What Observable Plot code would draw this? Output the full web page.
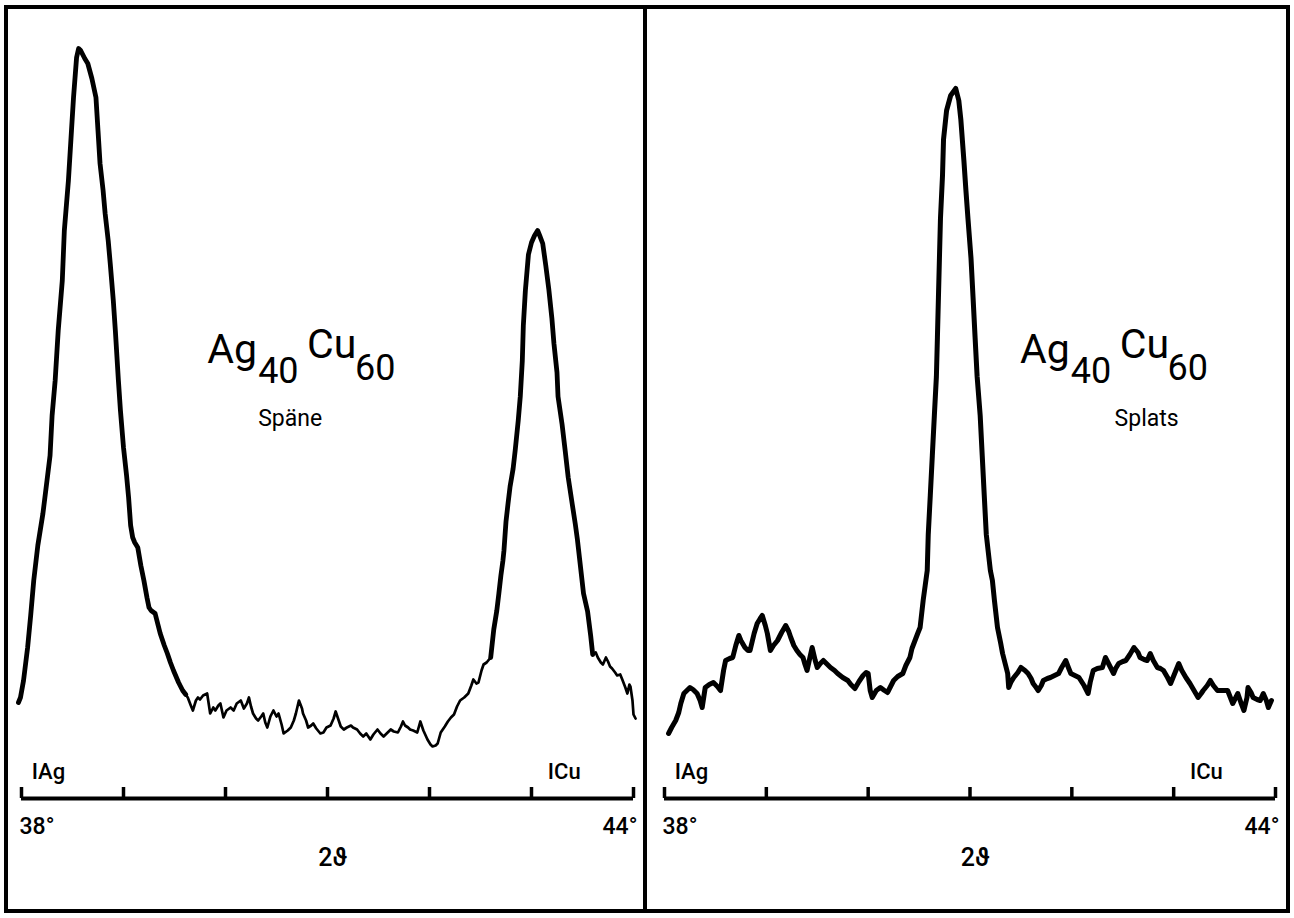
<!DOCTYPE html>
<html>
<head>
<meta charset="utf-8">
<script src="https://cdn.jsdelivr.net/npm/d3@7"></script>
<script src="https://cdn.jsdelivr.net/npm/@observablehq/plot@0.6"></script>
<style>
  html, body { margin: 0; padding: 0; background: #fff; }
  #figure {
    position: absolute; left: 4px; top: 5px;
    width: 1278px; height: 900px;
    border: 4px solid #000; display: flex; background: #fff;
  }
  #figure .divider { width: 4px; background: #000; flex: none; }
  #figure svg { flex: none; display: block; }
</style>
</head>
<body>
<div id="figure"></div>
<script>
// X-ray diffractometer traces of Ag40Cu60, 2θ from 38° to 44° (intensity in arbitrary units)

// Chips ("Späne")
const spaeneTheta = [
  37.97, 37.99, 38.02, 38.06, 38.09, 38.12, 38.16, 38.21, 38.25, 38.28, 38.30, 38.33, 38.36, 38.40, 38.42, 38.46,
  38.49, 38.51, 38.54, 38.56, 38.58, 38.62, 38.65, 38.69, 38.73, 38.75, 38.77, 38.80, 38.82, 38.85, 38.87, 38.90,
  38.92, 38.95, 38.97, 39.00, 39.03, 39.05, 39.07, 39.09, 39.11, 39.14, 39.17, 39.20, 39.23, 39.25, 39.27, 39.31,
  39.34, 39.36, 39.40, 39.43, 39.46, 39.49, 39.54, 39.58, 39.61, 39.63, 39.66, 39.68, 39.71, 39.73, 39.75, 39.78,
  39.82, 39.85, 39.88, 39.90, 39.93, 39.95, 39.98, 40.01, 40.05, 40.08, 40.11, 40.15, 40.18, 40.21, 40.23, 40.25,
  40.27, 40.30, 40.32, 40.35, 40.37, 40.39, 40.41, 40.44, 40.47, 40.50, 40.52, 40.55, 40.57, 40.61, 40.64, 40.67,
  40.69, 40.72, 40.75, 40.76, 40.79, 40.81, 40.84, 40.86, 40.89, 40.93, 40.96, 40.99, 41.03, 41.06, 41.08, 41.11,
  41.13, 41.16, 41.19, 41.23, 41.25, 41.29, 41.32, 41.35, 41.38, 41.42, 41.45, 41.49, 41.52, 41.55, 41.58, 41.62,
  41.65, 41.69, 41.72, 41.74, 41.76, 41.79, 41.81, 41.84, 41.88, 41.91, 41.94, 41.98, 42.01, 42.03, 42.06, 42.08,
  42.11, 42.15, 42.18, 42.21, 42.24, 42.27, 42.30, 42.34, 42.38, 42.41, 42.43, 42.46, 42.48, 42.51, 42.53, 42.56,
  42.60, 42.63, 42.66, 42.68, 42.70, 42.72, 42.73, 42.75, 42.77, 42.79, 42.82, 42.84, 42.87, 42.89, 42.91, 42.92,
  42.94, 42.97, 43.00, 43.03, 43.06, 43.08, 43.11, 43.14, 43.17, 43.20, 43.22, 43.25, 43.26, 43.30, 43.33, 43.36,
  43.40, 43.43, 43.45, 43.48, 43.51, 43.55, 43.58, 43.60, 43.63, 43.65, 43.68, 43.70, 43.73, 43.75, 43.77, 43.79,
  43.82, 43.84, 43.87, 43.89, 43.92, 43.94, 43.96, 43.97, 43.99, 44.00, 44.02
];
const spaeneCounts = [
   96, 101, 118, 151, 183, 218, 253, 285, 318, 343, 383, 418, 468, 518, 568, 618,
  668, 701, 741, 750, 748, 740, 735, 720, 701, 668, 635, 608, 585, 558, 535, 498,
  468, 418, 388, 351, 323, 301, 273, 261, 256, 251, 233, 218, 201, 191, 188, 185,
  173, 165, 153, 145, 136, 128, 116, 108, 104, 101,  93,  88,  98, 101,  99, 103,
  105,  85,  91,  88,  93,  95,  81,  88,  91,  88,  95,  98,  90,  95, 101,  92,
   85,  80,  78,  82,  85,  76,  71,  82,  88,  82,  85,  74,  65,  68,  71,  78,
   85,  98,  90,  85,  78,  71,  73,  75,  70,  65,  66,  71,  73,  80,  87,  78,
   72,  69,  71,  73,  71,  69,  65,  62,  65,  59,  64,  69,  65,  62,  65,  69,
   67,  66,  72,  77,  73,  71,  69,  68,  66,  77,  68,  59,  54,  52,  53,  55,
   66,  72,  77,  81,  84,  92,  98, 101, 105, 113, 119, 115, 116, 128, 134, 136,
  141, 169, 188, 205, 223, 238, 248, 277, 295, 312, 330, 348, 378, 402, 438, 473,
  508, 544, 556, 563, 568, 563, 555, 533, 509, 480, 455, 426, 402, 374, 348, 321,
  294, 274, 259, 232, 205, 187, 163, 144, 146, 141, 136, 134, 141, 137, 132, 130,
  126, 123, 124, 119, 111, 105, 114, 112,  98,  84,  80
];

// Splat-quenched foil ("Splats")
const splatsTheta = [
  38.04, 38.07, 38.11, 38.14, 38.16, 38.19, 38.22, 38.25, 38.28, 38.32, 38.35, 38.37, 38.40, 38.44, 38.48, 38.52,
  38.55, 38.58, 38.60, 38.64, 38.67, 38.70, 38.73, 38.75, 38.79, 38.82, 38.84, 38.88, 38.91, 38.94, 38.96, 38.99,
  39.01, 39.04, 39.07, 39.11, 39.15, 39.19, 39.22, 39.24, 39.27, 39.30, 39.33, 39.36, 39.38, 39.40, 39.43, 39.45,
  39.48, 39.50, 39.53, 39.56, 39.60, 39.63, 39.67, 39.70, 39.75, 39.80, 39.83, 39.87, 39.91, 39.95, 39.98, 40.00,
  40.02, 40.04, 40.08, 40.12, 40.16, 40.19, 40.22, 40.25, 40.29, 40.34, 40.37, 40.41, 40.43, 40.46, 40.49, 40.51,
  40.54, 40.56, 40.58, 40.59, 40.61, 40.63, 40.65, 40.67, 40.68, 40.69, 40.70, 40.71, 40.73, 40.74, 40.77, 40.81,
  40.86, 40.89, 40.91, 40.94, 40.96, 40.98, 41.01, 41.03, 41.05, 41.07, 41.10, 41.12, 41.14, 41.16, 41.18, 41.20,
  41.22, 41.24, 41.27, 41.30, 41.32, 41.35, 41.37, 41.38, 41.40, 41.43, 41.47, 41.50, 41.54, 41.57, 41.60, 41.62,
  41.65, 41.67, 41.70, 41.72, 41.76, 41.79, 41.83, 41.87, 41.90, 41.94, 41.97, 41.99, 42.03, 42.07, 42.12, 42.16,
  42.18, 42.21, 42.25, 42.30, 42.33, 42.37, 42.41, 42.43, 42.46, 42.50, 42.53, 42.57, 42.61, 42.65, 42.67, 42.71,
  42.74, 42.77, 42.80, 42.84, 42.87, 42.90, 42.94, 42.97, 43.01, 43.05, 43.08, 43.12, 43.16, 43.20, 43.24, 43.27,
  43.29, 43.33, 43.36, 43.39, 43.43, 43.48, 43.53, 43.58, 43.61, 43.63, 43.66, 43.69, 43.72, 43.73, 43.76, 43.78,
  43.82, 43.85, 43.88, 43.91, 43.93, 43.96
];
const splatsCounts = [
   65,  71,  78,  86,  95, 105, 108, 111, 109, 105,  98,  91, 111, 114, 116, 112,
  108, 128, 138, 140, 141, 153, 163, 158, 151, 148, 148, 165, 175, 180, 183, 173,
  165, 148, 153, 158, 166, 173, 167, 161, 153, 148, 144, 141, 134, 128, 142, 151,
  138, 131, 135, 138, 134, 131, 128, 125, 121, 118, 114, 110, 117, 123, 126, 125,
  108, 101, 108, 111, 108, 106, 112, 118, 122, 125, 133, 141, 150, 158, 166, 171,
  198, 213, 228, 264, 303, 343, 383, 422, 461, 501, 541, 580, 623, 659, 688, 703,
  710, 698, 679, 638, 608, 580, 540, 501, 461, 422, 383, 343, 303, 264, 246, 228,
  218, 198, 171, 156, 145, 133, 125, 111, 116, 121, 126, 131, 128, 125, 120, 115,
  111, 108, 113, 118, 120, 121, 123, 125, 131, 138, 130, 125, 123, 121, 113, 105,
  116, 128, 130, 131, 141, 133, 125, 130, 135, 137, 138, 144, 151, 146, 141, 139,
  138, 145, 138, 131, 130, 128, 121, 115, 125, 135, 128, 121, 115, 108, 101, 105,
  108, 113, 118, 113, 108, 108, 108,  95, 101, 105,  96,  88, 101, 111, 106, 101,
   99,  98, 105,  98,  91,  98
];

// Axis and annotation text
const thetaTicks = [38, 39, 40, 41, 42, 43, 44];
const tickLabels = ["38°", "44°"];
const axisTitle = "2ϑ";
const lineMarkers = ["IAg", "ICu"];
const markerTheta = [38.10, 43.16];
const alloyText = ["Ag", "40", "Cu", "60"];
const sampleNames = ["Späne", "Splats"];

const font = "Roboto, 'DejaVu Sans', sans-serif";

function rows(theta, counts) {
  return theta.map((t, i) => ({theta: t, counts: counts[i]}));
}

function panel({data, width, marginLeft, marginRight, sample, titleTheta, sampleTheta, lineWidth, heavyRanges}) {
  const heavy = heavyRanges.map(([a, b]) =>
    Plot.line(data.filter(d => d.theta >= a && d.theta <= b),
      {x: "theta", y: "counts", stroke: "#000", strokeWidth: 4.8, strokeLinejoin: "round", strokeLinecap: "round"}));
  return Plot.plot({
    width, height: 900,
    marginLeft, marginRight, marginTop: 9, marginBottom: 111,
    x: {domain: [38, 44], axis: null},
    y: {domain: [0, 780], axis: null},
    style: {fontFamily: font, background: "#fff", overflow: "visible", color: "#000"},
    marks: [
      // diffractometer trace
      Plot.line(data, {x: "theta", y: "counts", stroke: "#000", strokeWidth: lineWidth, strokeLinejoin: "round", strokeLinecap: "round"}),
      ...heavy,
      // 2θ scale bar with one tick per degree
      Plot.ruleY([0], {stroke: "#000", strokeWidth: 4}),
      Plot.ruleX(thetaTicks, {x: d => d, y1: 0, y2: 11, stroke: "#000", strokeWidth: 3.5}),
      Plot.text([tickLabels[0]], {x: thetaTicks[0], y: -35, text: d => d, textAnchor: "start", lineAnchor: "bottom", dx: -2, fontSize: 23, fontWeight: 500}),
      Plot.text([tickLabels[1]], {x: thetaTicks[thetaTicks.length - 1], y: -35, text: d => d, textAnchor: "end", lineAnchor: "bottom", dx: 4, fontSize: 23, fontWeight: 500}),
      Plot.text([axisTitle], {x: 41.05, y: -67, text: d => d, textAnchor: "middle", lineAnchor: "bottom", fontSize: 25, fontWeight: 500}),
      // reference line positions of pure Ag and Cu
      Plot.text(lineMarkers, {x: (d, i) => markerTheta[i], y: 20, text: d => d, textAnchor: "start", lineAnchor: "bottom", fontSize: 22, fontWeight: 500}),
      // alloy formula Ag40 Cu60
      Plot.text([alloyText[0]], {x: titleTheta[0], y: 436, text: d => d, textAnchor: "start", lineAnchor: "bottom", fontSize: 41}),
      Plot.text([alloyText[1]], {x: titleTheta[1], y: 416, text: d => d, textAnchor: "start", lineAnchor: "bottom", fontSize: 36}),
      Plot.text([alloyText[2]], {x: titleTheta[2], y: 441, text: d => d, textAnchor: "start", lineAnchor: "bottom", fontSize: 41}),
      Plot.text([alloyText[3]], {x: titleTheta[3], y: 419, text: d => d, textAnchor: "start", lineAnchor: "bottom", fontSize: 36}),
      Plot.text([sample], {x: sampleTheta, y: 373, text: d => d, textAnchor: "start", lineAnchor: "bottom", fontSize: 23})
    ]
  });
}

const fig = document.getElementById("figure");

fig.appendChild(panel({
  data: rows(spaeneTheta, spaeneCounts),
  width: 635, marginLeft: 13, marginRight: 10,
  sample: sampleNames[0],
  titleTheta: [39.82, 40.32, 40.80, 41.27],
  sampleTheta: 40.32,
  lineWidth: 2.7,
  heavyRanges: [[37.9, 39.62], [42.58, 43.6]]
}));

const divider = document.createElement("div");
divider.className = "divider";
fig.appendChild(divider);

fig.appendChild(panel({
  data: rows(splatsTheta, splatsCounts),
  width: 639, marginLeft: 17, marginRight: 11,
  sample: sampleNames[1],
  titleTheta: [41.49, 41.99, 42.47, 42.94],
  sampleTheta: 42.42,
  lineWidth: 5,
  heavyRanges: []
}));
</script>
</body>
</html>
